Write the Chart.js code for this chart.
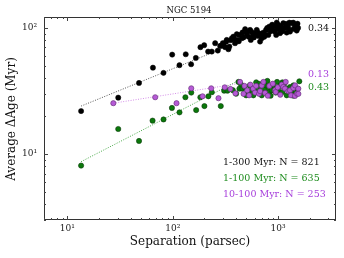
<!DOCTYPE html>
<html>
<head>
<meta charset="utf-8">
<script src="https://cdn.jsdelivr.net/npm/chart.js@4.4.1/dist/chart.umd.min.js"></script>
<style>
  html, body { margin: 0; padding: 0; background: #fff; }
  canvas { display: block; }
</style>
</head>
<body>
<canvas id="chart" width="344" height="258"></canvas>
<script>
// separation (pc), average dAge (Myr)
const allAges = [
  [13.5, 21.9], [30.4, 28.0], [47.9, 36.6], [64.9, 48.4], [81.8, 44.0], [98.9, 61.4],
  [115.9, 50.6], [133, 61.8], [149.6, 51.5], [165.8, 57.8], [183.4, 70.3], [199, 72.9],
  [216.8, 64.9], [235, 64.9], [253, 75.6], [268, 66.1], [282, 72.0], [290, 72.4],
  [299, 75.6], [303, 73.3], [315, 70.3], [322, 77.8], [326, 80.3], [338, 67.7],
  [345, 71.1], [356, 79.8], [364, 82.8], [377, 85.3], [380, 82.3], [391, 75.6],
  [406, 89.1], [411, 80.3], [424, 78.3], [430, 88.0], [453, 82.8], [460, 92],
  [470, 84], [487, 97.7], [505, 89.6], [510, 93], [523, 85.3], [543, 96.4],
  [551, 80.3], [560, 93], [576, 86.4], [590, 84], [605, 90.8], [628, 96.4],
  [640, 92], [650, 86.4], [675, 77.9], [690, 90], [700, 82.8], [726, 91.8],
  [740, 85], [760, 88], [769, 96.4], [790, 100], [809, 88.0], [827, 102.4],
  [850, 94], [871, 99.5], [880, 106], [902, 95.2], [920, 103], [937, 93.5],
  [960, 88], [972, 110.2], [990, 98], [1006, 105.6], [1044, 90.8], [1060, 103],
  [1084, 97.7], [1100, 94], [1122, 109], [1150, 100], [1191, 107.6], [1208, 91.8],
  [1230, 104], [1253, 99.5], [1280, 110], [1300, 93.5], [1348, 109], [1396, 110],
  [1400, 98], [1449, 102.4], [1480, 105], [1504, 95.2], [1530, 108], [1550, 100]
];
const youngAges = [
  [13.5, 8.1], [30.4, 15.8], [47.9, 12.7], [64.4, 18.4], [81.8, 18.8], [98.3, 23.2],
  [116, 21.4], [132, 28.2], [150, 30.7], [167, 22.3], [183, 28.2], [200, 24.0],
  [218, 28.7], [235, 30.9], [286, 24.0], [308, 31.8], [331, 31.8], [372, 32.1],
  [400, 30.1], [421, 37.3], [430, 33.0], [446, 35.5], [459, 33.0], [480, 34],
  [498, 29.2], [523, 30.7], [540, 35], [563, 32.1], [583, 29.2], [610, 31],
  [620, 37], [642, 33.0], [660, 36], [679, 34.5], [700, 29.2], [730, 31],
  [750, 33], [764, 35.1], [792, 38.0], [810, 34], [827, 31.1], [850, 29],
  [871, 32.1], [900, 35], [940, 33], [951, 30.7], [979, 37.3], [1000, 32],
  [1044, 34.7], [1100, 31], [1100, 37], [1148, 36.1], [1208, 29.2], [1250, 33],
  [1300, 34.0], [1348, 31.5], [1400, 35], [1400, 29], [1471, 31.1], [1530, 33],
  [1592, 37.7]
];
const midAges = [
  [27.3, 25.3], [68.2, 28.2], [108.7, 25.3], [150, 33.2], [192, 28.7], [232, 33.2],
  [272, 27.7], [312, 33.8], [353, 32.8], [394, 30.3], [436, 37.3], [470, 30],
  [480, 34.7], [510, 32], [531, 29.2], [546, 35.5], [580, 33], [605, 30.7],
  [619, 34.7], [660, 30], [675, 31.5], [700, 35], [726, 37.3], [753, 30.5],
  [800, 29], [827, 34.7], [891, 36.1], [937, 32.1], [950, 31], [993, 33.8],
  [1050, 29.5], [1084, 35.5], [1120, 34], [1165, 33.0], [1183, 37.3], [1253, 31.5],
  [1300, 32], [1328, 29.2], [1396, 33.4], [1449, 28.9], [1450, 35], [1514, 30.1],
  [1558, 33.0], [1560, 30]
];
// power-law fits (end points)
const allFit = [[13.5, 24.0], [400, 76.0]];
const youngFit = [[13.5, 8.7], [400, 37.4]];
const midFit = [[27.3, 25.3], [400, 35.9]];

const seriesNames = ['1-300 Myr: N = 821', '1-100 Myr: N = 635', '10-100 Myr: N = 253'];
const slopeLabels = ['0.34', '0.13', '0.43'];
const xTickValues = [10, 100, 1000];
const xTickLabels = ['10\u00b9', '10\u00b2', '10\u00b3'];
const yTickValues = [10, 100];
const yTickLabels = ['10\u00b9', '10\u00b2'];

const SERIF = "'DejaVu Serif', 'Liberation Serif', serif";
const toPts = arr => arr.map(p => ({ x: p[0], y: p[1] }));

const frame = {
  id: 'frame',
  afterDraw(chart) {
    const { ctx, chartArea: a, scales } = chart;
    ctx.save();
    ctx.strokeStyle = '#333';
    ctx.lineWidth = 1;
    ctx.strokeRect(a.left + 0.5, a.top + 0.5, a.right - a.left - 1, a.bottom - a.top - 1);

    // inward ticks on all four sides
    ctx.strokeStyle = '#444';
    ctx.beginPath();
    for (const d of [1, 10, 100, 1000]) {
      for (let m = 1; m <= 9; m++) {
        const v = m * d;
        const len = m === 1 ? 4 : 2;
        if (v >= scales.x.min && v <= scales.x.max) {
          const px = Math.round(scales.x.getPixelForValue(v)) + 0.5;
          ctx.moveTo(px, a.bottom); ctx.lineTo(px, a.bottom - len);
          ctx.moveTo(px, a.top); ctx.lineTo(px, a.top + len);
        }
        if (v >= scales.y.min && v <= scales.y.max) {
          const py = Math.round(scales.y.getPixelForValue(v)) + 0.5;
          ctx.moveTo(a.left, py); ctx.lineTo(a.left + len, py);
          ctx.moveTo(a.right, py); ctx.lineTo(a.right - len, py);
        }
      }
    }
    ctx.stroke();

    ctx.fillStyle = '#111';
    ctx.textBaseline = 'middle';
    ctx.textAlign = 'center';
    ctx.font = '8.5px ' + SERIF;
    ctx.fillText('NGC 5194', 189, 11);
    ctx.font = '12px ' + SERIF;
    ctx.fillText('Separation (parsec)', 190, 242);
    ctx.save();
    ctx.translate(12, 119);
    ctx.rotate(-Math.PI / 2);
    ctx.fillText('Average \u0394Age (Myr)', 0, 0);
    ctx.restore();

    ctx.font = '9.5px ' + SERIF;
    ctx.textAlign = 'left';
    const colors = ['#111', '#1e8c1e', '#a63ddb'];
    seriesNames.forEach((t, i) => {
      ctx.fillStyle = colors[i];
      ctx.fillText(t, 223, 163 + i * 16);
    });
    ctx.fillStyle = colors[0]; ctx.fillText(slopeLabels[0], 308, 29);
    ctx.fillStyle = colors[2]; ctx.fillText(slopeLabels[1], 308, 75);
    ctx.fillStyle = colors[1]; ctx.fillText(slopeLabels[2], 308, 88);
    ctx.restore();
  }
};

const fitLine = (data, color) => ({
  data: toPts(data),
  showLine: true,
  borderColor: color,
  borderWidth: 1,
  borderDash: [1, 1.5],
  pointRadius: 0,
  order: 10,
});

new Chart(document.getElementById('chart'), {
  type: 'scatter',
  data: {
    datasets: [
      fitLine(allFit, '#555'),
      fitLine(midFit, '#d48ee8'),
      fitLine(youngFit, '#46a846'),
      {
        data: toPts(allAges),
        backgroundColor: '#000',
        borderColor: '#000',
        borderWidth: 0.5,
        pointRadius: 2.6,
        order: 3,
      },
      {
        data: toPts(youngAges),
        backgroundColor: '#0a780a',
        borderColor: '#0b3a0b',
        borderWidth: 0.6,
        pointRadius: 2.6,
        order: 2,
      },
      {
        data: toPts(midAges),
        backgroundColor: '#b65ad6',
        borderColor: '#5e2a70',
        borderWidth: 0.6,
        pointRadius: 2.6,
        order: 1,
      },
    ],
  },
  options: {
    responsive: false,
    animation: false,
    layout: { padding: { left: 0, right: 8, top: 17, bottom: 0 } },
    plugins: {
      legend: { display: false },
      tooltip: { enabled: false },
    },
    scales: {
      x: {
        type: 'logarithmic',
        min: 6,
        max: 3550,
        grid: { display: false, drawTicks: false },
        border: { display: false },
        afterBuildTicks: s => { s.ticks = xTickValues.map(v => ({ value: v })); },
        afterFit: s => { s.height = 38; },
        ticks: {
          autoSkip: false,
          maxRotation: 0,
          padding: 3,
          color: '#222',
          font: { family: SERIF, size: 9 },
          callback: (v, i) => xTickLabels[i],
        },
      },
      y: {
        type: 'logarithmic',
        min: 3,
        max: 122,
        grid: { display: false, drawTicks: false },
        border: { display: false },
        afterBuildTicks: s => { s.ticks = yTickValues.map(v => ({ value: v })); },
        afterFit: s => { s.width = 44; },
        ticks: {
          autoSkip: false,
          padding: 7,
          color: '#222',
          font: { family: SERIF, size: 9 },
          callback: (v, i) => yTickLabels[i],
        },
      },
    },
  },
  plugins: [frame],
});
</script>
</body>
</html>
